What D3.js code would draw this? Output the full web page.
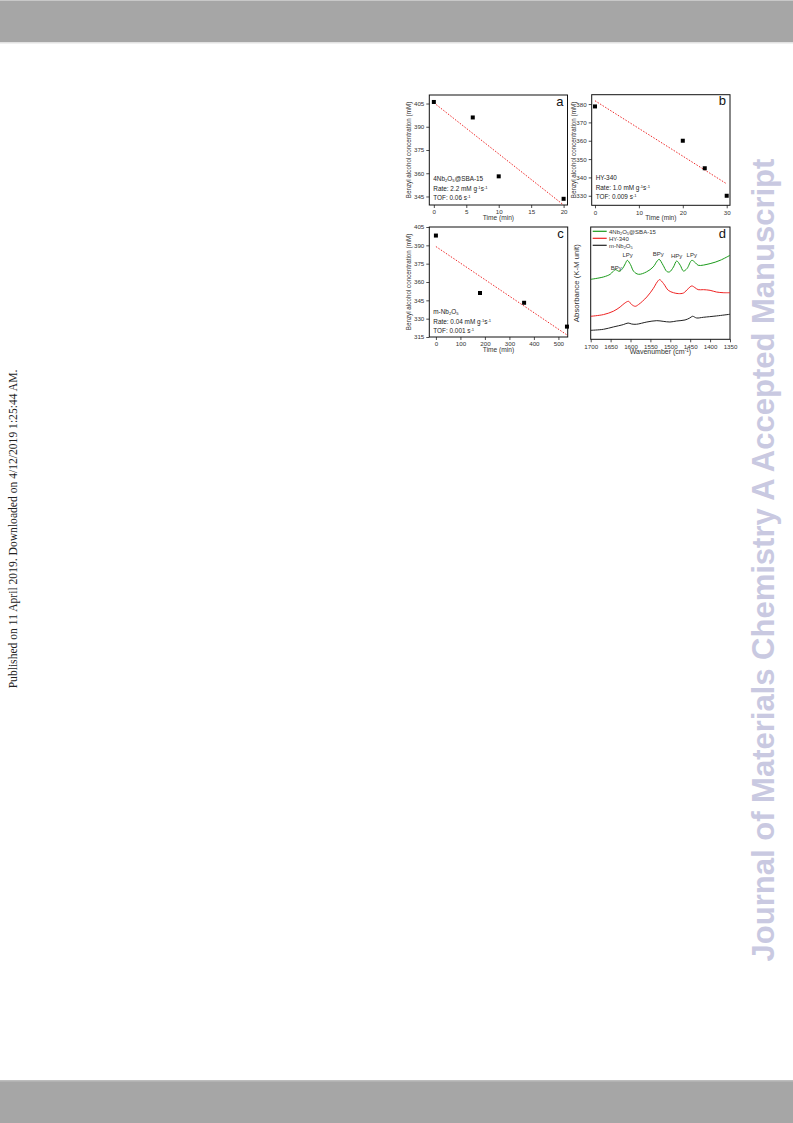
<!DOCTYPE html>
<html><head><meta charset="utf-8">
<script src="https://cdn.jsdelivr.net/npm/d3@7"></script>
<style>body{margin:0;background:#fff}svg{display:block}text{font-family:"Liberation Sans",Arial,sans-serif}</style>
</head><body>
<svg id="c" width="793" height="1123"></svg>
<script>
// ---- data ----
const timeA = [0, 6, 10, 20];
const concA = [406, 396, 358, 343.5];
const fitA = [[0, 405.5], [20, 339.5]];
const ticksAx = [0, 5, 10, 15, 20];
const ticksAy = [345, 360, 375, 390, 405];

const timeB = [0, 20, 25, 30];
const concB = [378.7, 360, 345, 330];
const fitB = [[0, 381.8], [30, 336.5]];
const ticksBx = [0, 10, 20, 30];
const ticksBy = [330, 340, 350, 360, 370, 380];

const timeC = [0, 180, 360, 535];
const concC = [398, 351, 343, 323.5];
const fitC = [[0, 389], [540, 316]];
const ticksCx = [0, 100, 200, 300, 400, 500];
const ticksCy = [315, 330, 345, 360, 375, 390, 405];

const waveGreen = [1700,1668,1651,1645,1638,1628,1620,1613,1608,1600,1592,1580,1560,1543,1533,1528,1518,1509,1502,1492,1484,1475,1467,1458,1446,1437,1430,1400,1375,1350];
const absGreen  = [53.4,55.5,57.9,60,62,60.5,63,67.4,70.3,66.5,60.5,57.9,60,64.4,69.7,71.2,65.9,60.5,60,64.4,69.7,65.9,60.8,63,70.3,68.2,65.9,67.4,70.3,74.8];
const waveRed = [1700,1668,1643,1626,1616,1605,1597,1588,1580,1559,1543,1533,1527,1517,1505,1492,1480,1467,1455,1446,1438,1430,1417,1400,1384,1367,1350];
const absRed  = [20.5,22,25,28.8,31.8,33.8,30.9,29.4,30.9,37.7,45.1,51,53.1,49.6,43.6,41.5,40.7,41.2,45.1,47.5,46,44.2,44.2,43.6,42.1,41.5,41.5];
const waveBlack = [1700,1668,1643,1618,1606,1597,1585,1559,1534,1518,1501,1484,1463,1451,1444,1434,1417,1384,1350];
const absBlack  = [8,8.9,11,13.1,14.5,13.6,13.4,15.4,16.6,16,15.4,16.3,17.2,19,20.5,19,19.6,20.8,22.3];
const ticksDx = [1700,1650,1600,1550,1500,1450,1400,1350];
const legendNames = ["4Nb|2|O|5|@SBA-15", "HY-340", "m-Nb|2|O|5|"];
const seriesColors = ["#1a9a1a", "#ee2222", "#222222"];
const peakLabels = [["BPy",1636,62],["LPy",1607,73],["BPy",1530,74],["HPy",1484,72.5],["LPy",1446,73.5]];

const svg = d3.select("#c");

// page chrome
svg.append("rect").attr("x",0).attr("y",0).attr("width",793).attr("height",42).attr("fill","#a6a6a6");
svg.append("rect").attr("x",0).attr("y",0).attr("width",793).attr("height",1).attr("fill","#c8c8c8");
svg.append("rect").attr("x",0).attr("y",42).attr("width",793).attr("height",1.5).attr("fill","#e2e2e2");
svg.append("rect").attr("x",0).attr("y",1081).attr("width",793).attr("height",42).attr("fill","#a6a6a6");
svg.append("rect").attr("x",0).attr("y",1080).attr("width",793).attr("height",1.5).attr("fill","#bdbdbd");

svg.append("text").attr("transform","translate(17,529) rotate(-90)").attr("text-anchor","middle")
  .style("font-family","'Liberation Serif','Times New Roman',serif").attr("font-size",11.6).attr("fill","#222")
  .text("Published on 11 April 2019. Downloaded on 4/12/2019 1:25:44 AM.");
svg.append("text").attr("transform","translate(774,560) rotate(-90)").attr("text-anchor","middle")
  .attr("font-size",31).attr("font-weight","bold").attr("fill","#c9c9e1")
  .text("Journal of Materials Chemistry A Accepted Manuscript");

function richText(sel, str, fs){
  const parts = str.split("|");
  parts.forEach((p,i)=>{
    if(!p) return;
    const t = sel.append("tspan").text(p);
    if(i%2===1){ t.attr("font-size",fs*0.65).attr("baseline-shift","-25%"); }
  });
}
function supText(sel, segs, fs){
  segs.forEach(s=>{
    const t = sel.append("tspan").text(s[0]);
    if(s[1]) t.attr("font-size",fs*0.65).attr("baseline-shift","45%");
  });
}

function panel(o){
  const g = svg.append("g");
  const x = d3.scaleLinear().domain(o.xd).range(o.xr);
  const y = d3.scaleLinear().domain(o.yd).range(o.yr);
  const clipId = "clip"+o.letter;
  g.append("clipPath").attr("id",clipId).append("rect")
    .attr("x",o.xr[0]).attr("y",o.yr[1]).attr("width",o.xr[1]-o.xr[0]).attr("height",o.yr[0]-o.yr[1]);
  const ax = g.append("g").attr("transform",`translate(0,${o.yr[0]})`)
    .call(d3.axisBottom(x).tickValues(o.tx).tickSize(3).tickPadding(2).tickFormat(d3.format("d")));
  ax.select(".domain").remove();
  ax.selectAll("text").attr("font-size",6.2).attr("fill","#333").style("font-family","'Liberation Sans',Arial,sans-serif");
  ax.selectAll("line").attr("stroke","#222").attr("stroke-width",0.8);
  if(o.ty){
    const ay = g.append("g").attr("transform",`translate(${o.xr[0]},0)`)
      .call(d3.axisLeft(y).tickValues(o.ty).tickSize(3).tickPadding(2).tickFormat(d3.format("d")));
    ay.select(".domain").remove();
    ay.selectAll("text").attr("font-size",6.2).attr("fill","#333").style("font-family","'Liberation Sans',Arial,sans-serif");
    ay.selectAll("line").attr("stroke","#222").attr("stroke-width",0.8);
  }
  g.append("rect").attr("x",o.xr[0]).attr("y",o.yr[1]).attr("width",o.xr[1]-o.xr[0]).attr("height",o.yr[0]-o.yr[1])
    .attr("fill","none").attr("stroke","#111").attr("stroke-width",1);
  g.append("text").attr("x",(o.xr[0]+o.xr[1])/2).attr("y",o.yr[0]+15).attr("text-anchor","middle")
    .attr("font-size",o.xtf||6.6).attr("fill","#333").call(s=>{
      if(o.xtitleSup){ supText(s,o.xtitleSup,o.xtf||6.6);} else s.text(o.xtitle);
    });
  g.append("text").attr("transform",`translate(${o.ytx},${(o.yr[0]+o.yr[1])/2}) rotate(-90)`).attr("text-anchor","middle")
    .attr("font-size",o.ytf||6.3).attr("fill","#333").text(o.ytitle);
  g.append("text").attr("x",o.xr[1]-4).attr("y",o.yr[1]+10.5).attr("text-anchor","end")
    .attr("font-size",13).attr("fill","#111").text(o.letter);
  return {g,x,y,clipId};
}

function kineticPanel(o, times, concs, fit, notes){
  const p = panel(o);
  p.g.append("path").datum(fit).attr("clip-path",`url(#${p.clipId})`)
    .attr("d", d3.line().x(d=>p.x(d[0])).y(d=>p.y(d[1])))
    .attr("fill","none").attr("stroke","#ee2a2a").attr("stroke-width",1).attr("stroke-dasharray","1.5,1.5");
  p.g.selectAll("rect.pt").data(times).enter().append("rect").attr("class","pt")
    .attr("x",(d)=>p.x(d)-2).attr("y",(d,i)=>p.y(concs[i])-2).attr("width",4).attr("height",4).attr("fill","#000");
  const nx = o.xr[0]+4;
  notes.forEach((n,i)=>{
    const t = p.g.append("text").attr("x",nx).attr("y",o.noteY[i]).attr("font-size",6.4).attr("fill","#222");
    n(t);
  });
  return p;
}

kineticPanel({letter:"a", xd:[-0.7,20.6], xr:[429.3,567.5], yd:[339.5,410.5], yr:[205,95], tx:ticksAx, ty:ticksAy,
  xtitle:"Time (min)", ytitle:"Benzyl alcohol concentration (mM)", ytx:411, noteY:[181,190.5,200]},
  timeA, concA, fitA, [
    t=>richText(t,"4Nb|2|O|5|@SBA-15",6.4),
    t=>supText(t,[["Rate: 2.2 mM g"],["-1",1],["s"],["-1",1]],6.4),
    t=>supText(t,[["TOF: 0.06 s"],["-1",1]],6.4)
  ]);
kineticPanel({letter:"b", xd:[-0.75,30.75], xr:[591.7,730], yd:[324.8,385.1], yr:[205.3,94.7], tx:ticksBx, ty:ticksBy,
  xtitle:"Time (min)", ytitle:"Benzyl alcohol concentration (mM)", ytx:576, noteY:[180,189.5,198.5]},
  timeB, concB, fitB, [
    t=>t.text("HY-340"),
    t=>supText(t,[["Rate: 1.0 mM g"],["-1",1],["s"],["-1",1]],6.4),
    t=>supText(t,[["TOF: 0.009 s"],["-1",1]],6.4)
  ]);
kineticPanel({letter:"c", xd:[-27,538], xr:[429.3,567.7], yd:[315,405], yr:[337,227], tx:ticksCx, ty:ticksCy,
  xtitle:"Time (min)", ytitle:"Benzyl alcohol concentration (mM)", ytx:411, noteY:[314,323.5,333]},
  timeC, concC, fitC, [
    t=>richText(t,"m-Nb|2|O|5|",6.4),
    t=>supText(t,[["Rate: 0.04 mM g"],["-1",1],["s"],["-1",1]],6.4),
    t=>supText(t,[["TOF: 0.001 s"],["-1",1]],6.4)
  ]);

// panel d
const pd = panel({letter:"d", xd:[1700,1350], xr:[590.7,730], yd:[0,100], yr:[339.3,227], tx:ticksDx, ty:null,
  xtitleSup:[["Wavenumber (cm"],["-1",1],[")"]], xtf:7, ytitle:"Absorbance (K-M unit)", ytf:7.8, ytx:579});
const series = [[waveGreen,absGreen],[waveRed,absRed],[waveBlack,absBlack]];
const lineD = d3.line().curve(d3.curveCatmullRom.alpha(0.5)).x(d=>pd.x(d[0])).y(d=>pd.y(d[1]));
series.forEach((s,i)=>{
  pd.g.append("path").datum(s[0].map((w,j)=>[w,s[1][j]])).attr("clip-path",`url(#${pd.clipId})`)
    .attr("d",lineD).attr("fill","none").attr("stroke",seriesColors[i]).attr("stroke-width",1);
});
peakLabels.forEach(p=>{
  pd.g.append("text").attr("x",pd.x(p[1])).attr("y",pd.y(p[2])).attr("text-anchor","middle")
    .attr("font-size",6).attr("fill","#333").text(p[0]);
});
legendNames.forEach((n,i)=>{
  const ly = 231.3 + i*7;
  pd.g.append("line").attr("x1",592.7).attr("x2",606.7).attr("y1",ly).attr("y2",ly)
    .attr("stroke",seriesColors[i]).attr("stroke-width",1.2);
  const t = pd.g.append("text").attr("x",609).attr("y",ly+2.2).attr("font-size",6).attr("fill","#333");
  richText(t,n,6);
});
</script>
</body></html>
